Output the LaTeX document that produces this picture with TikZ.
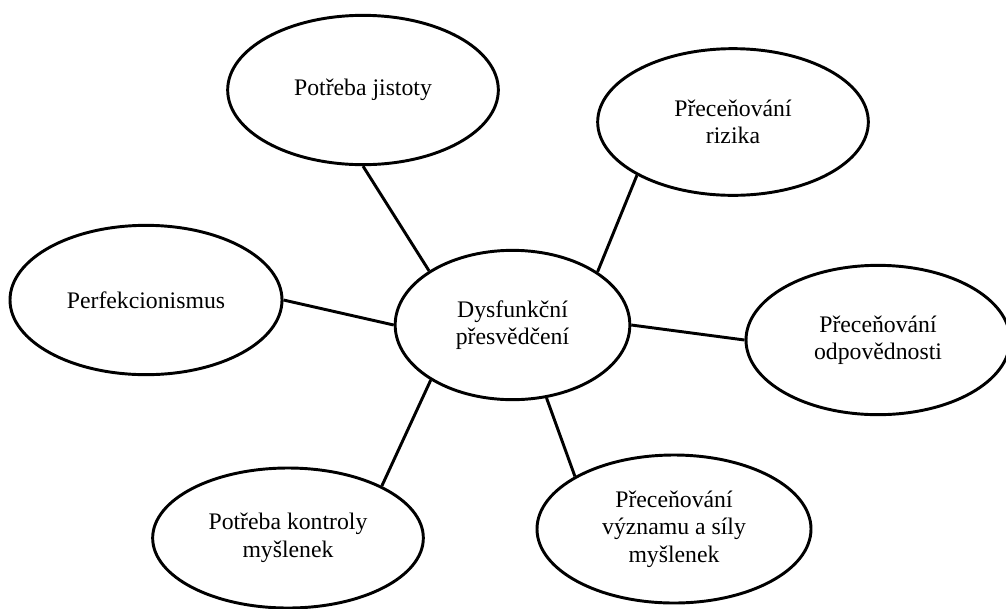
\documentclass[tikz,border=0pt]{standalone}
\usepackage{fontspec}
\setmainfont{Liberation Serif}
\usetikzlibrary{shapes.geometric}

\begin{document}
\begin{tikzpicture}[x=0.75pt,y=-0.75pt,line width=2.2pt,
  bubble/.style={draw,ellipse,align=center,inner sep=0pt,
    minimum width=203pt,minimum height=112pt,
    font=\fontsize{17.8}{20.6}\selectfont}]
\useasboundingbox (0,0) rectangle (1006,608);
% middle
\node[bubble,minimum width=176pt] (core) at (512.5,325) {Dysfunkční\\přesvědčení};
% around it
\node[bubble] (jistota) at (363,90) {Potřeba jistoty};
\node[bubble,minimum height=110pt] (riziko) at (733,122) {Přeceňování\\rizika};
\node[bubble,minimum width=204pt] (perfekce) at (146,300) {Perfekcionismus};
\node[bubble,minimum width=198pt] (odpovednost) at (878,340) {Přeceňování\\odpovědnosti};
\node[bubble,minimum height=105pt] (kontrola) at (288,538) {Potřeba kontroly\\myšlenek};
\node[bubble,minimum width=205.5pt,minimum height=111pt] (vyznam) at (674,529) {Přeceňování\\významu a síly\\myšlenek};

% spokes
\draw (jistota.south) -- (core.147);
\draw (riziko.209) -- (core.32);
\draw (perfekce.east) -- (core.west);
\draw (odpovednost.west) -- (core.east);
\draw (kontrola.29) -- (core.214);
\draw (vyznam.152) -- (core.295);
\end{tikzpicture}
\end{document}
